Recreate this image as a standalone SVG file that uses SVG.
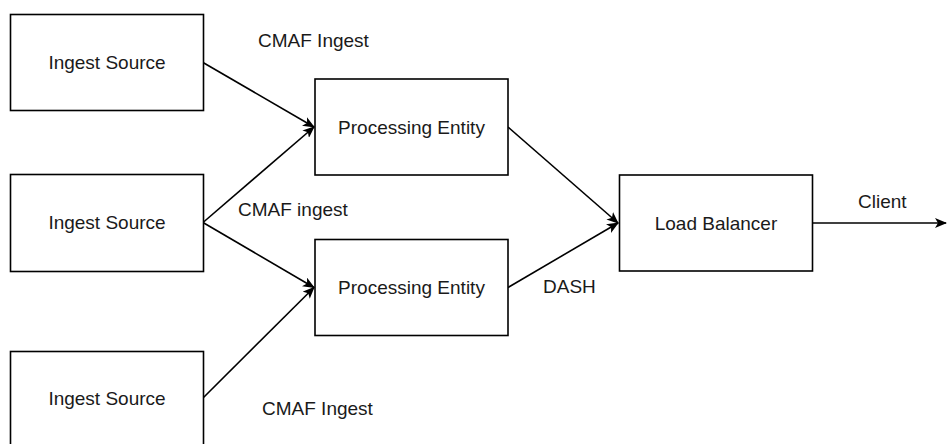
<svg xmlns="http://www.w3.org/2000/svg" width="947" height="444" viewBox="0 0 947 444">
<defs>
<style>
.box{fill:#fff;stroke:#000;stroke-width:1.6}
.t{font-family:"Liberation Sans",Arial,sans-serif;font-size:19px;fill:#1a1a1a}
.c{text-anchor:middle}
.e{fill:none;stroke:#000;stroke-width:1.6}
</style>
<marker id="a" viewBox="0 0 12 10" refX="11" refY="5" markerWidth="12" markerHeight="10" markerUnits="userSpaceOnUse" orient="auto">
<path d="M0,0 L12,5 L0,10 L3,5 Z" fill="#000"/>
</marker>
</defs>
<rect width="947" height="444" fill="#fff"/>
<g id="edges">
<line class="e" x1="203" y1="62.5" x2="314" y2="127" marker-end="url(#a)"/>
<line class="e" x1="203" y1="222.5" x2="314" y2="127" marker-end="url(#a)"/>
<line class="e" x1="203" y1="222.5" x2="314" y2="287.5" marker-end="url(#a)"/>
<line class="e" x1="203" y1="398" x2="314" y2="287.5" marker-end="url(#a)"/>
<line class="e" x1="508" y1="127" x2="618" y2="223" marker-end="url(#a)"/>
<line class="e" x1="508" y1="287.5" x2="618" y2="223" marker-end="url(#a)"/>
<line class="e" x1="812" y1="223" x2="946" y2="223" marker-end="url(#a)"/>
<text class="t" x="258" y="47">CMAF Ingest</text>
<text class="t" x="238" y="216">CMAF ingest</text>
<text class="t" x="262" y="415">CMAF Ingest</text>
<text class="t" x="543" y="293">DASH</text>
<text class="t" x="858" y="208">Client</text>
</g>
<g id="src1"><rect class="box" x="10.5" y="14.5" width="193" height="96"/><text class="t c" x="107" y="69">Ingest Source</text></g>
<g id="src2"><rect class="box" x="10.5" y="174.5" width="193" height="97"/><text class="t c" x="107" y="229">Ingest Source</text></g>
<g id="src3"><rect class="box" x="10.5" y="351.5" width="193" height="97"/><text class="t c" x="107" y="405">Ingest Source</text></g>
<g id="pe1"><rect class="box" x="315" y="79" width="193" height="96"/><text class="t c" x="411.5" y="133.5">Processing Entity</text></g>
<g id="pe2"><rect class="box" x="315" y="239.5" width="193" height="96"/><text class="t c" x="411.5" y="294">Processing Entity</text></g>
<g id="lb"><rect class="box" x="619.5" y="175" width="193" height="96"/><text class="t c" x="716" y="229.5">Load Balancer</text></g>
</svg>
